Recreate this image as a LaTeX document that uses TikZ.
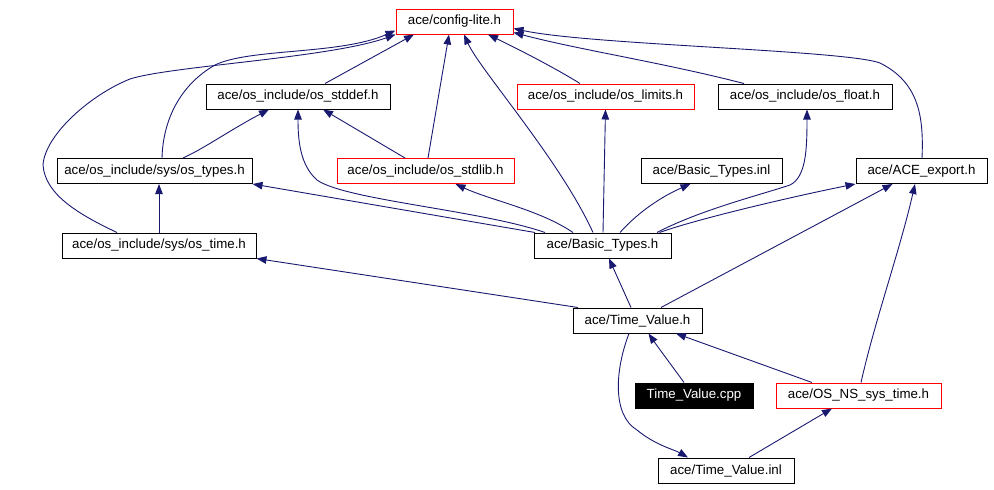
\documentclass[tikz,border=0pt]{standalone}
\usepackage{fontspec}
\setmainfont{Liberation Sans}
\usetikzlibrary{arrows.meta}
\definecolor{edgeblue}{RGB}{25,25,112}
\begin{document}
\begin{tikzpicture}[x=1pt,y=-1pt,
  box/.style={draw=black,line width=1pt,fill=white,minimum height=25pt,inner sep=0pt,font=\fontsize{13.3}{16}\selectfont},
  redbox/.style={box,draw=red},
  blackbox/.style={box,fill=black,text=white},
  edge/.style={draw=edgeblue,line width=0.9pt,-{Triangle[length=10pt,width=7.5pt]}},
]
\useasboundingbox (0,0) rectangle (994,490);
% nodes
\node[redbox,minimum width=117pt] (cfg) at (454.5,21.5) {ace/config-lite.h};
\node[box,minimum width=184pt] (stddef) at (298,96.5) {ace/os\_include/os\_stddef.h};
\node[redbox,minimum width=177pt] (limits) at (605.5,96.5) {ace/os\_include/os\_limits.h};
\node[box,minimum width=174pt] (float) at (805,96.5) {ace/os\_include/os\_float.h};
\node[box,minimum width=195pt] (types) at (154.5,171) {ace/os\_include/sys/os\_types.h};
\node[redbox,minimum width=177pt] (stdlib) at (425.5,171) {ace/os\_include/os\_stdlib.h};
\node[box,minimum width=141pt] (btinl) at (711.5,171) {ace/Basic\_Types.inl};
\node[box,minimum width=131pt] (export) at (921.5,171) {ace/ACE\_export.h};
\node[box,minimum width=194pt] (ostime) at (159,245.5) {ace/os\_include/sys/os\_time.h};
\node[box,minimum width=137pt] (bth) at (602.5,245.5) {ace/Basic\_Types.h};
\node[box,minimum width=129pt] (tvh) at (637.5,320.5) {ace/Time\_Value.h};
\node[blackbox,minimum width=118pt] (cpp) at (694,395.5) {Time\_Value.cpp};
\node[redbox,minimum width=165pt] (nssys) at (858.5,395.5) {ace/OS\_NS\_sys\_time.h};
\node[box,minimum width=136pt] (tvinl) at (726,470.5) {ace/Time\_Value.inl};
% edges
\draw[edge] ([xshift=27pt]stddef.north) -- ([xshift=-40.5pt]cfg.south);
\draw[edge] ([xshift=2.5pt]stdlib.north) -- ([xshift=-5.5pt]cfg.south);
\draw[edge] ([xshift=-9.5pt]bth.north) .. controls (560,160) and (480,70) .. ([xshift=9.5pt]cfg.south);
\draw[edge] ([xshift=-25.5pt]limits.north) .. controls (555,68) and (520,50) .. ([xshift=33.5pt]cfg.south);
\draw[edge] ([xshift=-61pt]float.north) .. controls (660,62) and (580,50) .. ([yshift=2pt]cfg.south east);
\draw[edge] ([xshift=0.5pt]export.north) .. controls (924,115) and (918,82) .. (880,63) .. controls (845,50) and (590,45) .. ([yshift=6pt]cfg.south east);
\draw[edge] ([xshift=7.5pt]types.north) .. controls (163,120) and (180,85) .. (215,65) .. controls (250,48) and (340,55) .. ([yshift=4pt]cfg.south west);
\draw[edge] ([xshift=-42pt]ostime.north) .. controls (80,215) and (45,195) .. (43,165) .. controls (45,135) and (90,95) .. (130,79) .. controls (170,66) and (330,58) .. ([yshift=0pt]cfg.south west);
\draw[edge] ([xshift=28.5pt]types.north) .. controls (205,148) and (230,130) .. ([xshift=-29pt]stddef.south);
\draw[edge] ([xshift=-20.5pt]stdlib.north) -- ([xshift=25pt]stddef.south);
\draw[edge] ([xshift=-57.5pt]bth.north) .. controls (480,210) and (345,200) .. (317,180) .. controls (300,165) and (298,140) .. (stddef.south);
\draw[edge] ([xshift=-67.5pt]bth.north) -- (types.south east);
\draw[edge] ([xshift=-29.5pt]bth.north) .. controls (540,210) and (490,200) .. ([xshift=30pt]stdlib.south);
\draw[edge] ([xshift=0.5pt]bth.north) -- (limits.south);
\draw[edge] ([xshift=17.5pt]bth.north) .. controls (640,210) and (665,195) .. ([xshift=-21pt]btinl.south);
\draw[edge] ([xshift=54.5pt]bth.north) .. controls (700,210) and (760,195) .. (790,185) .. controls (806,177) and (807,150) .. ([xshift=2pt]float.south);
\draw[edge] ([xshift=57pt]bth.north) .. controls (700,218) and (800,195) .. (export.south west);
\draw[edge] (ostime.north) -- (ostime.north |- types.south);
\draw[edge] ([xshift=-59.5pt]tvh.north) -- (ostime.south east);
\draw[edge] ([xshift=-6.5pt]tvh.north) -- ([xshift=6.5pt]bth.south);
\draw[edge] ([xshift=23.5pt]tvh.north) -- ([xshift=-29pt]export.south);
\draw[edge] ([xshift=-10pt]cpp.north) .. controls (675,370) and (660,350) .. ([xshift=11pt]tvh.south);
\draw[edge] ([xshift=-46.5pt]nssys.north) -- ([xshift=38.5pt]tvh.south);
\draw[edge] ([xshift=2.5pt]nssys.north) .. controls (875,320) and (900,250) .. ([xshift=-6.5pt]export.south);
\draw[edge] ([xshift=-8.5pt]tvh.south) .. controls (615,370) and (612,415) .. (637,430) .. controls (655,445) and (675,450) .. ([xshift=-38pt]tvinl.north);
\draw[edge] ([xshift=23pt]tvinl.north) -- ([xshift=-26.5pt]nssys.south);
\end{tikzpicture}
\end{document}
